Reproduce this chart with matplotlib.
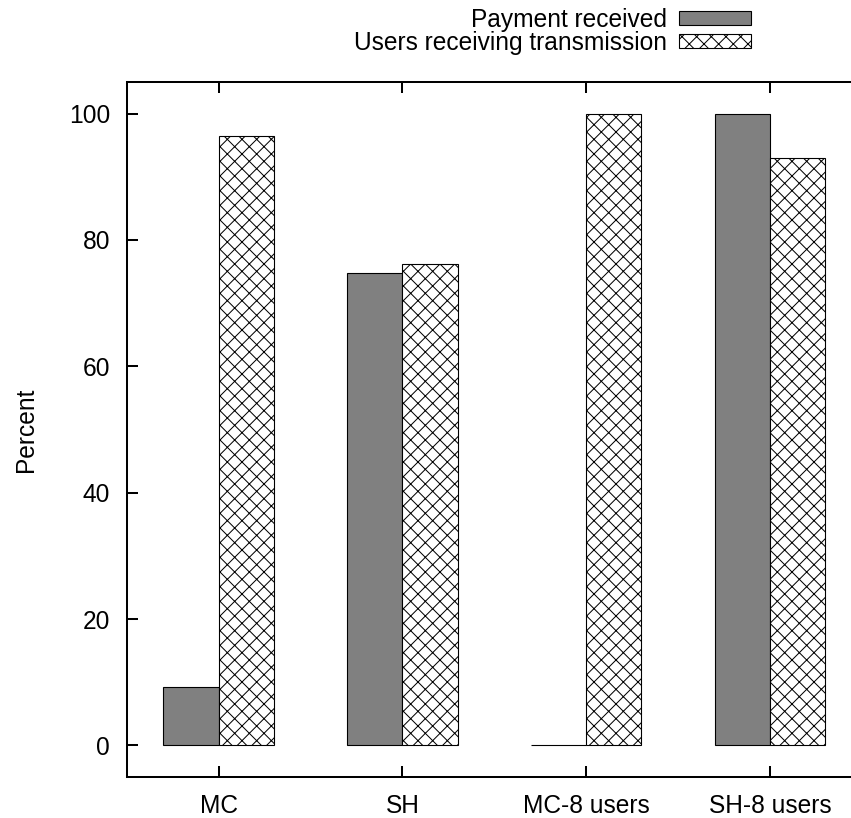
import matplotlib
matplotlib.use('Agg')
import matplotlib.pyplot as plt
import numpy as np

plt.rcParams['font.family'] = ['Liberation Sans', 'DejaVu Sans']
plt.rcParams['hatch.linewidth'] = 0.55

# valores por categoria
categorias = ['MC', 'SH', 'MC-8 users', 'SH-8 users']
pagamento = [9.3, 74.8, 0, 100]
usuarios = [96.5, 76.2, 100, 93.0]

dpi = 132
fig = plt.figure(figsize=(851/dpi, 818/dpi), dpi=dpi)
# eixo passa um pouco da borda direita (fica cortado)
ax = fig.add_axes([0.1489, 0.0501, 0.864, 0.8496])

x = np.arange(len(categorias))
w = 0.3
ax.bar(x - w/2, pagamento, w, color='#808080', edgecolor='black', linewidth=0.6,
       label='Payment received')
ax.bar(x + w/2, usuarios, w, color='white', edgecolor='black', linewidth=0.6,
       hatch='xxx', label='Users receiving transmission')

ax.set_xlim(-0.5, 3.5)
ax.set_ylim(-5, 105)
ax.set_xticks(x)
ax.set_xticklabels(categorias)
ax.set_yticks([0, 20, 40, 60, 80, 100])
ax.tick_params(direction='in', length=6, width=1.1, labelsize=13.4,
               top=True, right=True, pad=9)
for s in ax.spines.values():
    s.set_linewidth(1.1)
ax.set_ylabel('Percent', fontsize=13.4, labelpad=17)

fig.legend(loc='upper right', bbox_to_anchor=(751/851, 1 - 8/818),
           frameon=False, markerfirst=False, fontsize=13.4, borderpad=0,
           handlelength=2.93, handleheight=0.5, handletextpad=0.5,
           labelspacing=-0.05, borderaxespad=0)

fig.savefig('out.png', dpi=dpi)
